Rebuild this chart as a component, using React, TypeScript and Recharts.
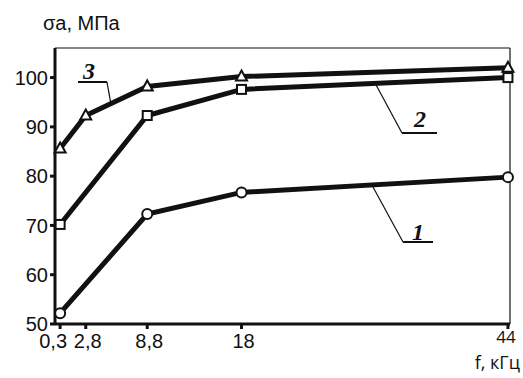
import React from "react";
import {
  LineChart,
  Line,
  XAxis,
  YAxis,
  ReferenceLine,
  ReferenceDot,
} from "recharts";

// frequency, kHz
const freq = [0.3, 2.8, 8.8, 18, 44];
// fatigue strength sigma_a, MPa (null = no measurement)
const curve1 = [52.2, null, 72.3, 76.7, 79.8];
const curve2 = [70.2, null, 92.3, 97.6, 100.0];
const curve3 = [85.6, 92.3, 98.2, 100.2, 102.0];

const yTicks = [50, 60, 70, 80, 90, 100];

// callouts: number, text centre, underline and leader (data units)
const callouts = [
  { name: "3", at: [3.12, 101.5], under: [[2.04, 99.1], [4.87, 99.1]], lead: [5.26, 94.6] },
  { name: "2", at: [35.42, 91.8], under: [[33.66, 88.75], [37.08, 88.75]], lead: [31.03, 98.9] },
  { name: "1", at: [35.22, 68.7], under: [[33.76, 66.64], [36.69, 66.64]], lead: [30.83, 77.8] },
];

const data = freq.map((f, i) => ({
  f,
  c1: curve1[i],
  c2: curve2[i],
  c3: curve3[i],
}));

const INK = "#111";

function Circle(props: any) {
  const { cx, cy } = props;
  if (cx == null || cy == null || props.value == null) return null;
  return <circle cx={cx} cy={cy} r={5} fill="#fff" stroke={INK} strokeWidth={2} />;
}

function Square(props: any) {
  const { cx, cy } = props;
  if (cx == null || cy == null || props.value == null) return null;
  return <rect x={cx - 4.5} y={cy - 4.5} width={9} height={9} fill="#fff" stroke={INK} strokeWidth={2} />;
}

function Triangle(props: any) {
  const { cx, cy } = props;
  if (cx == null || cy == null || props.value == null) return null;
  return (
    <path
      d={`M${cx},${cy - 6} L${cx + 5.5},${cy + 4} L${cx - 5.5},${cy + 4} Z`}
      fill="#fff"
      stroke={INK}
      strokeWidth={2}
    />
  );
}

function FreqTick(props: any) {
  const { x, y, payload } = props;
  const v = payload.value;
  const last = v === 44;
  return (
    <text
      x={v === 0.3 ? x - 7 : last ? x - 2 : x + 2}
      y={y}
      dy={last ? 12 : 17}
      textAnchor="middle"
      fill={INK}
      fontSize={last ? 17 : 20}
      fontFamily={last ? "Open Sans" : "Liberation Sans, Arial, sans-serif"}
    >
      {String(v).replace(".", ",")}
    </text>
  );
}

export default function App() {
  return (
    <div
      style={{
        position: "absolute",
        left: 0,
        top: 0,
        width: 523,
        height: 378,
        background: "#fff",
        fontFamily: "Liberation Sans, Arial, sans-serif",
        color: INK,
      }}
    >
      <div style={{ position: "absolute", left: 43, top: 13, fontSize: 20, lineHeight: "20px" }}>
        σa, МПа
      </div>
      <div
        style={{
          position: "absolute",
          right: 3,
          top: 353,
          fontSize: 18,
          lineHeight: "18px",
          fontFamily: "Open Sans",
        }}
      >
        f, кГц
      </div>

      <LineChart
        width={523}
        height={378}
        data={data}
        margin={{ top: 48, right: 13, bottom: 24, left: 5 }}
      >
        <XAxis
          dataKey="f"
          type="number"
          domain={[-0.2, 44.2]}
          ticks={freq}
          height={30}
          tick={<FreqTick />}
          tickSize={5}
          tickLine={{ stroke: INK, strokeWidth: 3 }}
          axisLine={{ stroke: INK, strokeWidth: 3 }}
        />
        <YAxis
          type="number"
          domain={[50, 106]}
          ticks={yTicks}
          width={50}
          tickSize={5}
          tickMargin={2}
          tick={{ fill: INK, fontSize: 20, fontFamily: "Liberation Sans, Arial, sans-serif" }}
          tickLine={{ stroke: INK, strokeWidth: 3 }}
          axisLine={{ stroke: INK, strokeWidth: 3 }}
        />

        {/* thin frame on top and right */}
        <ReferenceLine y={106} stroke={INK} strokeWidth={1.2} />
        <ReferenceLine x={44.2} stroke={INK} strokeWidth={1.2} />

        {callouts.map((c) => (
          <ReferenceLine
            key={`u${c.name}`}
            segment={[
              { x: c.under[0][0], y: c.under[0][1] },
              { x: c.under[1][0], y: c.under[1][1] },
            ]}
            stroke={INK}
            strokeWidth={2}
          />
        ))}
        {callouts.map((c) => {
          // leader starts at the underline end nearest the curve
          const start = c.name === "3" ? c.under[1] : c.under[0];
          return (
            <ReferenceLine
              key={`l${c.name}`}
              segment={[
                { x: start[0], y: start[1] },
                { x: c.lead[0], y: c.lead[1] },
              ]}
              stroke={INK}
              strokeWidth={1.2}
            />
          );
        })}
        {callouts.map((c) => (
          <ReferenceDot
            key={`t${c.name}`}
            x={c.at[0]}
            y={c.at[1]}
            r={0}
            fill="none"
            stroke="none"
            label={{
              value: c.name,
              position: "center",
              fill: INK,
              fontSize: 24,
              fontWeight: "bold",
              fontStyle: "italic",
              fontFamily: "Liberation Serif, serif",
            }}
          />
        ))}

        <Line
          dataKey="c1"
          stroke={INK}
          strokeWidth={5}
          connectNulls
          dot={<Circle />}
          isAnimationActive={false}
        />
        <Line
          dataKey="c2"
          stroke={INK}
          strokeWidth={5}
          connectNulls
          dot={<Square />}
          isAnimationActive={false}
        />
        <Line
          dataKey="c3"
          stroke={INK}
          strokeWidth={5}
          connectNulls
          dot={<Triangle />}
          isAnimationActive={false}
        />
      </LineChart>
    </div>
  );
}
